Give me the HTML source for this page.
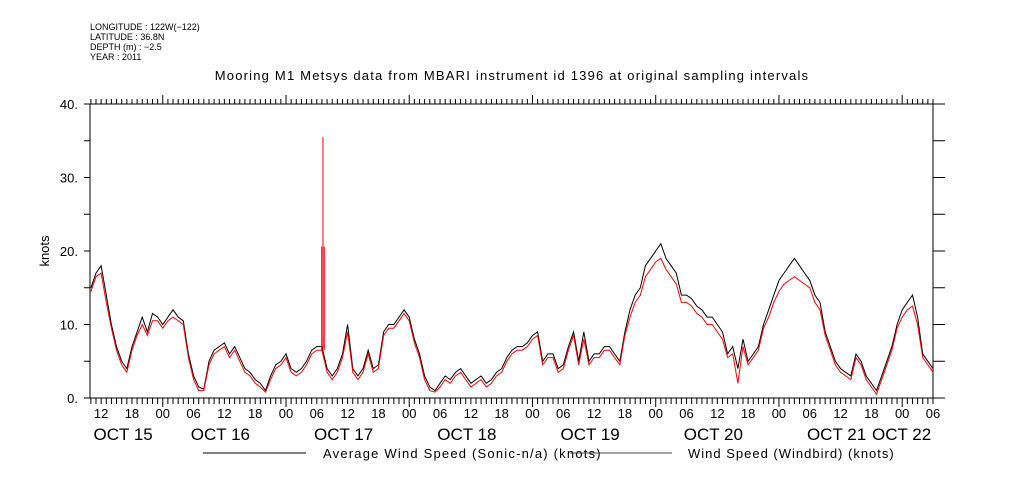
<!DOCTYPE html>
<html><head><meta charset="utf-8">
<style>
html,body{margin:0;padding:0;background:#fff;}
svg{display:block;font-family:"Liberation Sans",sans-serif;}
</style></head>
<body>
<svg id="chart" width="1009" height="504" viewBox="0 0 1009 504">
<g font-size="9" fill="#000">
<text x="90" y="30">LONGITUDE : 122W(−122)</text>
<text x="90" y="40">LATITUDE : 36.8N</text>
<text x="90" y="50">DEPTH (m) : −2.5</text>
<text x="90" y="60">YEAR : 2011</text>
</g>
<text x="512" y="80" font-size="13" letter-spacing="1.2" text-anchor="middle">Mooring M1 Metsys data from MBARI instrument id 1396 at original sampling intervals</text>
<text x="49" y="251" font-size="13" text-anchor="middle" transform="rotate(-90 49 251)">knots</text>
<g id="axes"></g>
<g id="series"></g>
<g>
<line x1="203" y1="453" x2="306" y2="453" stroke="#000" stroke-width="1"/>
<text x="323" y="458" font-size="13" letter-spacing="1.2">Average Wind Speed (Sonic-n/a) (knots)</text>
<line x1="570" y1="453" x2="672" y2="453" stroke="#444" stroke-width="1"/>
<text x="688" y="458" font-size="13" letter-spacing="1">Wind Speed (Windbird) (knots)</text>
</g>
</svg>
<script>
// hours since Oct 15 00:00, hourly from 10 to 174
const startHour = 10;
const avgSpeed = [15,17,18,14,10,7,5,4,7,9,11,9,11.5,11,10,11,12,11,10.5,6,3,1.5,1.2,5,6.5,7,7.5,6,7,5.5,4,3.5,2.5,2,1,3,4.5,5,6,4,3.5,4,5,6.5,7,7,4,3,4,6,10,4,3,4,6.5,4,4.5,9,10,10,11,12,11,8,6,3,1.5,1,2,3,2.5,3.5,4,3,2,2.5,3,2,2.5,3.5,4,5.5,6.5,7,7,7.5,8.5,9,5,6,6,4,4.5,7,9,5,9,5,6,6,7,7,6,5,9,12,14,15,18,19,20,21,19,18,17,14,14,13.5,12.5,12,11,11,10,9,6,7,4,8,5,6,7,10,12,14,16,17,18,19,18,17,16,14,13,9,7,5,4,3.5,3,6,5,3,2,1,3,5,7,10,12,13,14,11,6,5,4];
const windbird = [14.5,16.5,17,13,9.5,6.5,4.5,3.5,6.5,8.5,10,8.5,10.5,10.5,9.5,10.5,11,10.5,10,5.5,2.5,1,1,4.5,6,6.5,7,5.5,6.5,5,3.5,3,2,1.5,0.8,2.5,4,4.5,5.5,3.5,3,3.5,4.5,6,6.5,6.5,3.5,2.5,3.5,5.5,9,3.5,2.5,3.5,6,3.5,4,8.5,9.5,9.5,10.5,11.5,10.5,7.5,5.5,2.5,1,0.8,1.5,2.5,2,3,3.5,2.5,1.5,2,2.5,1.5,2,3,3.5,5,6,6.5,6.5,7,8,8.5,4.5,5.5,5.5,3.5,4,6.5,8.5,4.5,8,4.5,5.5,5.5,6.5,6.5,5.5,4.5,8.5,11,13,14,16.5,17.5,18.5,19,17.5,16.5,15.5,13,13,12.5,11.5,11,10,10,9,8,5.5,6,2,7,4.5,5.5,6.5,9.5,11,13,14.5,15.5,16,16.5,16,15.5,15,13,12,8.5,6.5,4.5,3.5,3,2.5,5.5,4.5,2.5,1.5,0.5,2.5,4.5,6.5,9.5,11,12,12.5,10,5.5,4.5,3.5];
const spikeHours = [54.95,55.2,55.45];
const spikeValues = [20.6,35.5,20.6];
const yTicks = [0,10,20,30,40];
const yTickLabels = ["0.","10.","20.","30.","40."];
const hourTickLabels = ["00","06","12","18"];
const dayLabels = ["OCT 15","OCT 16","OCT 17","OCT 18","OCT 19","OCT 20","OCT 21","OCT 22"];

const X0=90, X1=933, Y0=398, Y1=104;
const hMin=9.83, hMax=174;
const xs = h => X0 + (h-hMin)/(hMax-hMin)*(X1-X0);
const ys = v => Y0 - v/40*(Y0-Y1);
const NS="http://www.w3.org/2000/svg";
function mk(tag, attrs, parent){const e=document.createElementNS(NS,tag);for(const k in attrs)e.setAttribute(k,attrs[k]);parent.appendChild(e);return e;}
const axes=document.getElementById('axes');
const series=document.getElementById('series');

const frame=mk('rect',{x:X0,y:Y1,width:X1-X0,height:Y0-Y1,fill:'none',stroke:'#000','stroke-width':1},axes);



for(let v=0; v<=40; v+=5){
  const y=ys(v);
  const l=mk('line',{x1:X0-6,y1:y,x2:X0,y2:y,stroke:'#000'},axes);
  
  
  const r=mk('line',{x1:X1,y1:y,x2:X1+12,y2:y,stroke:'#000'},axes);
  
  
}
yTicks.forEach((v,i)=>{
  const t=mk('text',{x:X0-12,y:ys(v)+5,'font-size':13,'text-anchor':'end'},axes);
  t.textContent=yTickLabels[i];
  
  
});
for(let h=Math.ceil(hMin); h<=hMax; h++){
  const x=xs(h); const major=(h%24===0);
  const b=mk('line',{x1:x,y1:Y0,x2:x,y2:Y0+(major?9:6),stroke:'#000'},axes);
  
  
  const t=mk('line',{x1:x,y1:Y1,x2:x,y2:Y1-(major?9:5),stroke:'#000'},axes);
  
  
  if(h%6===0){
    const lb=mk('text',{x:x,y:418,'font-size':13,'text-anchor':'middle'},axes);
    lb.textContent=hourTickLabels[(h%24)/6];
    
    
  }
}
dayLabels.forEach((d,i)=>{
  let h=i*24+12; if(h>hMax-2) h=hMax-3; if(h<hMin) h=hMin;
  let x=xs(h)+(i===0?22:(i===7?-16:-4));
  const t=mk('text',{x:x,y:440,'font-size':17,'text-anchor':'middle'},axes);
  t.textContent=d;
  
  
});

function pathFor(arr){return arr.map((v,i)=>(i?'L':'M')+xs(startHour+i).toFixed(1)+','+ys(v).toFixed(1)).join('');}
const pb=mk('path',{d:pathFor(avgSpeed),fill:'none',stroke:'#000','stroke-width':1},series);


const pr=mk('path',{d:pathFor(windbird),fill:'none',stroke:'#f00','stroke-width':1},series);


spikeHours.forEach((h,i)=>{
  const base=windbird[Math.round(h)-startHour];
  const s=mk('line',{x1:xs(h),y1:ys(base),x2:xs(h),y2:ys(spikeValues[i]),stroke:'#f00','stroke-width':1},series);
  
  
});
</script>
</body></html>
